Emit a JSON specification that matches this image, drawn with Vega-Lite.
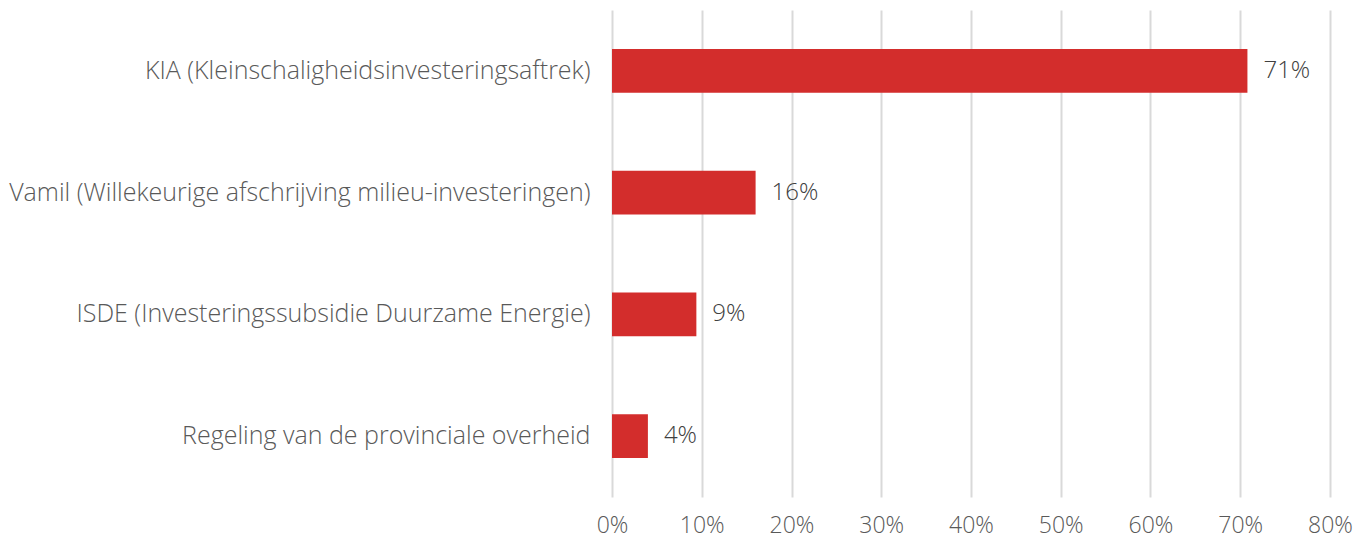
{
  "$schema": "https://vega.github.io/schema/vega-lite/v6.json",
  "autosize": {"type": "none"},
  "padding": {"left": 612, "top": 10, "right": 42, "bottom": 44},
  "width": 718,
  "height": 487,
  "background": "white",
  "config": {
    "view": {"stroke": null},
    "font": "Open Sans"
  },
  "data": {
    "values": [
      {"regeling": "KIA (Kleinschaligheidsinvesteringsaftrek)", "aandeel": 0.708},
      {"regeling": "Vamil (Willekeurige afschrijving milieu-investeringen)", "aandeel": 0.16},
      {"regeling": "ISDE (Investeringssubsidie Duurzame Energie)", "aandeel": 0.094},
      {"regeling": "Regeling van de provinciale overheid", "aandeel": 0.04}
    ]
  },
  "encoding": {
    "y": {
      "field": "regeling",
      "type": "nominal",
      "sort": null,
      "scale": {"paddingInner": 0.64, "paddingOuter": 0.32},
      "axis": {
        "title": null,
        "domain": false,
        "ticks": false,
        "labelFontSize": 25,
        "labelFontWeight": 350,
        "labelColor": "#595959",
        "labelPadding": 22,
        "labelLimit": 700,
        "labelFont": "Open Sans"
      }
    },
    "x": {
      "field": "aandeel",
      "type": "quantitative",
      "scale": {"domain": [0, 0.8]},
      "axis": {
        "title": null,
        "format": ".0%",
        "values": [0, 0.1, 0.2, 0.3, 0.4, 0.5, 0.6, 0.7, 0.8],
        "domain": false,
        "ticks": false,
        "grid": true,
        "gridColor": "#D9D9D9",
        "gridWidth": 2,
        "labelFlush": false,
        "labelFontSize": 23,
        "labelFontWeight": 350,
        "labelColor": "#595959",
        "labelPadding": 17,
        "labelFont": "Open Sans"
      }
    }
  },
  "layer": [
    {"mark": {"type": "bar", "color": "#D32D2C"}},
    {
      "mark": {"type": "text", "align": "left", "dx": 16, "fontSize": 24, "fontWeight": 350, "color": "#404040", "font": "Open Sans"},
      "encoding": {"text": {"field": "aandeel", "type": "quantitative", "format": ".0%"}}
    }
  ]
}
